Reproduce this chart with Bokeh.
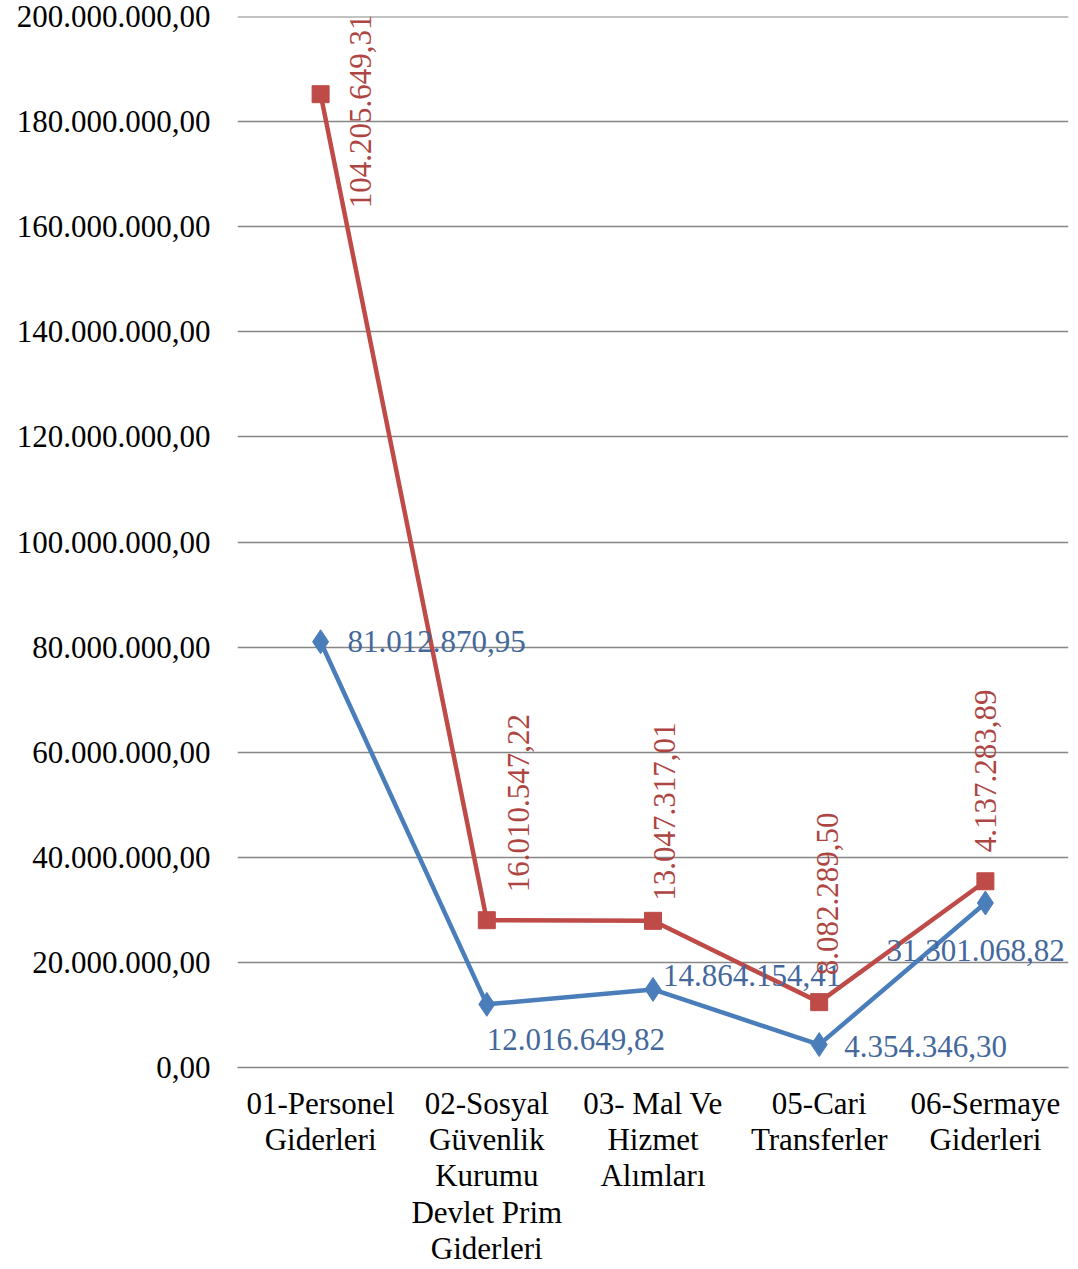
from bokeh.plotting import figure
from bokeh.models import ColumnDataSource, FactorRange, Range1d, FixedTicker, LabelSet, Span
from bokeh.core.properties import value
from bokeh.embed import file_html
from bokeh.resources import INLINE

categories = [
    "01-Personel\nGiderleri",
    "02-Sosyal\nGüvenlik\nKurumu\nDevlet Prim\nGiderleri",
    "03- Mal Ve\nHizmet\nAlımları",
    "05-Cari\nTransferler",
    "06-Sermaye\nGiderleri",
]
blue_values = [81012870.95, 12016649.82, 14864154.41, 4354346.30, 31301068.82]
red_values = [104205649.31, 16010547.22, 13047317.01, 8082289.50, 4137283.89]
y_ticks = [0, 20e6, 40e6, 60e6, 80e6, 100e6, 120e6, 140e6, 160e6, 180e6, 200e6]
y_tick_labels = ["0,00", "20.000.000,00", "40.000.000,00", "60.000.000,00",
                 "80.000.000,00", "100.000.000,00", "120.000.000,00",
                 "140.000.000,00", "160.000.000,00", "180.000.000,00",
                 "200.000.000,00"]

# label placement (screen px offsets, positive = up) - style only
blue_dx = [27, 0, 10, 25, -99]
blue_dy = [0, -35, 14, -2, -47]
red_dx = [40, 32, 12, 8, 0]
red_dy = [-114, 28, 20, 27, 29]

FONT = "Liberation Serif"
BLUE = "#4A7EBB"
RED = "#BE4B48"
BLUE_TXT = "#44689c"
RED_TXT = "#ad4542"
GRID = "#868686"


def tr(v):
    s = f"{v:,.2f}"
    return s.replace(",", "#").replace(".", ",").replace("#", ".")


red_stack = [b + r for b, r in zip(blue_values, red_values)]

blue_src = ColumnDataSource(dict(x=categories, y=blue_values,
                                 t=[tr(v) for v in blue_values],
                                 dx=blue_dx, dy=blue_dy))
red_src = ColumnDataSource(dict(x=categories, y=red_stack,
                                t=[tr(v) for v in red_values],
                                dx=red_dx, dy=red_dy))

p = figure(width=1070, height=1269, x_range=FactorRange(*categories, range_padding=0),
           y_range=Range1d(0, y_ticks[-1]), output_backend="svg", toolbar_location=None)
p.min_border_left = 237
p.min_border_right = 2
p.min_border_top = 16
p.min_border_bottom = 190
p.outline_line_color = None
p.background_fill_color = "white"

p.xgrid.grid_line_color = None
p.ygrid.grid_line_color = GRID
p.ygrid.grid_line_width = 1.5
p.ygrid.ticker = FixedTicker(ticks=y_ticks)
p.add_layout(Span(location=y_ticks[-1], dimension="width", line_color=GRID, line_width=2))

p.yaxis.ticker = FixedTicker(ticks=y_ticks)
p.yaxis.major_label_overrides = {t: l for t, l in zip(y_ticks, y_tick_labels)}
p.yaxis.axis_line_color = None
p.yaxis.major_tick_line_color = None
p.yaxis.minor_tick_line_color = None
p.yaxis.major_tick_out = 0
p.yaxis.major_label_standoff = 27
p.yaxis.major_label_text_font = FONT
p.yaxis.major_label_text_font_size = "31px"
p.yaxis.major_label_text_color = "black"

p.xaxis.axis_line_color = GRID
p.xaxis.axis_line_width = 1.5
p.xaxis.major_tick_line_color = None
p.xaxis.major_tick_out = 0
p.xaxis.major_label_standoff = 18
p.xaxis.major_label_text_font = FONT
p.xaxis.major_label_text_font_size = "31px"
p.xaxis.major_label_text_color = "black"
p.xaxis.major_label_text_line_height = 1.04

p.line("x", "y", source=blue_src, line_color=BLUE, line_width=4.5)
p.scatter("x", "y", source=blue_src, marker="diamond", size=24, fill_color=BLUE, line_color=BLUE)
p.line("x", "y", source=red_src, line_color=RED, line_width=4.5)
p.scatter("x", "y", source=red_src, marker="square", size=17, fill_color=RED, line_color=RED)

blue_labels = LabelSet(x="x", y="y", text="t", source=blue_src, x_offset="dx", y_offset="dy",
                       text_font=value(FONT), text_font_size="31px", text_color=BLUE_TXT,
                       text_align="left", text_baseline="middle")
red_labels = LabelSet(x="x", y="y", text="t", source=red_src, x_offset="dx", y_offset="dy",
                      angle=1.5708, text_font=value(FONT), text_font_size="31px",
                      text_color=RED_TXT, text_align="left", text_baseline="middle")
p.add_layout(blue_labels)
p.add_layout(red_labels)

open("out.html", "w").write(file_html(p, INLINE))
